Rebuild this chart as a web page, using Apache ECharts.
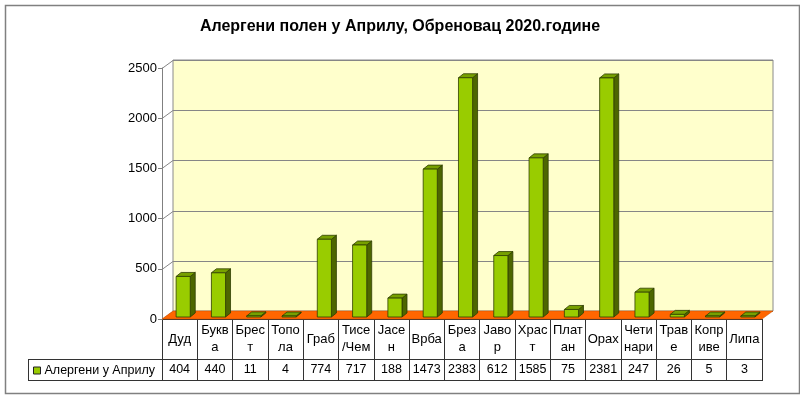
<!DOCTYPE html>
<html>
<head>
<meta charset="utf-8">
<script src="https://cdn.jsdelivr.net/npm/echarts@6/dist/echarts.min.js"></script>
<style>
html,body{margin:0;padding:0;background:#fff;}
#c{width:800px;height:395px;}
</style>
</head>
<body>
<div id="c"></div>
<script>
const titleText = 'Алергени полен у Априлу, Обреновац 2020.године';
const seriesName = 'Алергени у Априлу';
const categories = ['Дуд','Буква','Брест','Топола','Граб','Тисе/Чем','Јасен','Врба','Бреза','Јавор','Храст','Платан','Орах','Четинари','Траве','Коприве','Липа'];
const values = [404,440,11,4,774,717,188,1473,2383,612,1585,75,2381,247,26,5,3];
const yTicks = [0,500,1000,1500,2000,2500];

const DX = 11, DY = 8; // depth of the 3D box

const chart = echarts.init(document.getElementById('c'), null, {renderer:'canvas'});
const FONT = 'Liberation Sans, Arial, sans-serif';

function decorItem(params, api){
  const cs = params.coordSys;
  const left = cs.x, right = cs.x + cs.width;
  const y0 = api.coord([0,0])[1];
  const yTop = api.coord([0,2500])[1];
  const ch = [];
  ch.push({type:'polygon', shape:{points:[[left+DX,yTop-DY],[right+DX,yTop-DY],[right+DX,y0-DY],[left+DX,y0-DY]]},
    style:{fill:'#FFFFCC', stroke:'#8a8a8a', lineWidth:1}});
  yTicks.forEach(t=>{
    const y = Math.round(api.coord([0,t])[1]) + 0.5;
    ch.push({type:'polyline', shape:{points:[[left,y],[left+DX,y-DY],[right+DX,y-DY]]},
      style:{stroke:'#868686', lineWidth:1, fill:null}});
  });
  ch.push({type:'polygon', shape:{points:[[left,y0],[right,y0],[right+DX,y0-DY],[left+DX,y0-DY]]},
    style:{fill:'#FF6600', stroke:'#C85000', lineWidth:0.5}});
  const tl = 28;
  const r1 = Math.round(y0) + 40.5, r2 = Math.round(y0) + 61.5;
  ch.push({type:'line', shape:{x1:tl, y1:r1, x2:right, y2:r1}, style:{stroke:'#333', lineWidth:1}});
  ch.push({type:'line', shape:{x1:tl, y1:r2, x2:right, y2:r2}, style:{stroke:'#333', lineWidth:1}});
  ch.push({type:'line', shape:{x1:tl+0.5, y1:r1, x2:tl+0.5, y2:r2}, style:{stroke:'#333', lineWidth:1}});
  return {type:'group', children:ch};
}

function barItem(params, api){
  const i = api.value(0), v = api.value(1);
  const p = api.coord([i, v]);
  const p0 = api.coord([i, 0]);
  const band = api.size([1,0])[0];
  const w = band*0.4;
  const cx = p[0] + band*0.1;
  const x1 = cx - w/2, x2 = cx + w/2;
  const yb = p0[1] - 2, yt = Math.min(p[1] - 2, yb - 1);
  const dx = 5, dy = 4;
  const edge = '#2E3D00';
  return {type:'group', children:[
    {type:'polygon', shape:{points:[[x2,yt],[x2+dx,yt-dy],[x2+dx,yb-dy],[x2,yb]]}, style:{fill:'#4D6600', stroke:edge, lineWidth:0.8}},
    {type:'polygon', shape:{points:[[x1,yt],[x1+dx,yt-dy],[x2+dx,yt-dy],[x2,yt]]}, style:{fill:'#77A000', stroke:edge, lineWidth:0.8}},
    {type:'rect', shape:{x:x1, y:yt, width:w, height:yb-yt}, style:{fill:'#99CC00', stroke:edge, lineWidth:0.8}}
  ]};
}

const option = {
  animation:false,
  backgroundColor:'#fff',
  title:{text:titleText, left:'center', top:14,
    textStyle:{fontFamily:FONT, fontSize:16, fontWeight:'bold', color:'#000'}},
  legend:{show:true, left:33, top:364, padding:0, icon:'rect', itemWidth:7, itemHeight:7, itemGap:4,
    data:[{name:seriesName, itemStyle:{color:'#99CC00', borderColor:'#222', borderWidth:1}}],
    textStyle:{fontFamily:FONT, fontSize:12.5, color:'#000', padding:[0,0,0,-1]}},
  grid:{left:162, right:38, top:68, bottom:76, containLabel:false},
  xAxis:[{
    type:'category', data:categories, position:'bottom',
    axisLine:{show:true, lineStyle:{color:'#333', width:1}},
    axisTick:{show:true, length:62, lineStyle:{color:'#333', width:1}},
    axisLabel:{interval:0, margin:20, verticalAlign:'middle', lineHeight:16.5,
      fontFamily:FONT, fontSize:13, color:'#000',
      formatter:(v)=>v.match(/.{1,4}/g).join('\n')},
    splitLine:{show:false}
  },{
    type:'category', data:categories, position:'bottom',
    axisLine:{show:false}, axisTick:{show:false},
    axisLabel:{interval:0, margin:51, verticalAlign:'middle',
      fontFamily:FONT, fontSize:12.5, color:'#000',
      formatter:(v,idx)=>String(values[idx])}
  }],
  yAxis:{type:'value', min:0, max:2500, interval:500,
    axisLine:{show:true, lineStyle:{color:'#808080'}},
    axisTick:{show:true, length:4, lineStyle:{color:'#808080'}},
    axisLabel:{margin:5, fontFamily:FONT, fontSize:13, color:'#000', formatter:(v)=>String(v)},
    splitLine:{show:false}},
  graphic:[{type:'rect', left:3, top:3, shape:{width:794, height:388},
    style:{fill:null, stroke:'#808080', lineWidth:1.5}, silent:true, z:-10}],
  series:[
    {type:'custom', name:'decor', z:1, xAxisIndex:0, renderItem:decorItem, data:[[0,0]], silent:true, clip:false},
    {type:'custom', name:seriesName, z:3, xAxisIndex:0, renderItem:barItem, clip:false,
      itemStyle:{color:'#99CC00'},
      data:values.map((v,i)=>[i,v])}
  ]
};
chart.setOption(option);
</script>
</body>
</html>
